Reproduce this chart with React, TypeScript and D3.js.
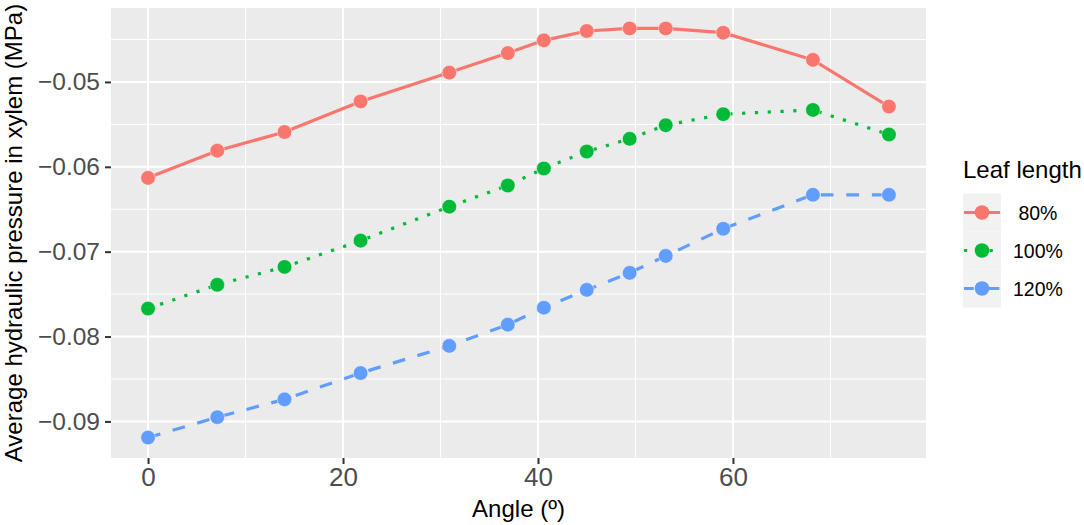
import { useEffect, useRef } from 'react'
import * as d3 from 'd3'

// angle (degrees)
const angles = [0, 7.1, 14, 21.8, 30.9, 36.9, 40.6, 45, 49.4, 53.1, 59, 68.2, 76]

const leaf80 = [-0.0613, -0.0581, -0.0559, -0.0523, -0.0489, -0.0466, -0.0451, -0.044, -0.0437, -0.0437, -0.0442, -0.0474, -0.0529]
const leaf100 = [-0.0767, -0.0739, -0.0718, -0.0687, -0.0647, -0.0622, -0.0602, -0.0582, -0.0567, -0.0551, -0.0538, -0.0533, -0.0562]
const leaf120 = [-0.0919, -0.0895, -0.0874, -0.0843, -0.0811, -0.0786, -0.0766, -0.0745, -0.0725, -0.0705, -0.0673, -0.0633, -0.0633]

const seriesNames = [' 80%', '100%', '120%']
const seriesColors = ['#F8766D', '#00BA38', '#619CFF']
const seriesDash = ['none', '3.2 9.6', '12.8 12.8']

const xTicks = [0, 20, 40, 60]
const xMinor = [10, 30, 50, 70]
const yTicks = [-0.09, -0.08, -0.07, -0.06, -0.05]
const yMinor = [-0.085, -0.075, -0.065, -0.055, -0.045]

const FONT = "'Liberation Sans', Arial, Helvetica, sans-serif"

export default function App() {
  const svgRef = useRef<SVGSVGElement>(null)

  useEffect(() => {
    if (!svgRef.current) return
    const svg = d3.select(svgRef.current)
    svg.selectAll('*').remove()

    const W = 1084
    const H = 525
    const panel = { left: 111, right: 926, top: 8, bottom: 458 }

    const series = [leaf80, leaf100, leaf120]

    // ggplot style 5% expansion
    const xExt = d3.extent(angles) as [number, number]
    const xPad = (xExt[1] - xExt[0]) * 0.05
    const allY = series.flat()
    const yExt = d3.extent(allY) as [number, number]
    const yPad = (yExt[1] - yExt[0]) * 0.05

    const x = d3.scaleLinear()
      .domain([xExt[0] - xPad, xExt[1] + xPad])
      .range([panel.left, panel.right])
    const y = d3.scaleLinear()
      .domain([yExt[0] - yPad, yExt[1] + yPad])
      .range([panel.bottom, panel.top])

    svg.attr('width', W).attr('height', H)

    svg.append('rect')
      .attr('width', W)
      .attr('height', H)
      .attr('fill', '#fff')

    // panel background
    svg.append('rect')
      .attr('x', panel.left)
      .attr('y', panel.top)
      .attr('width', panel.right - panel.left)
      .attr('height', panel.bottom - panel.top)
      .attr('fill', '#EBEBEB')

    const grid = svg.append('g')
    yMinor.forEach(t => {
      grid.append('line')
        .attr('x1', panel.left).attr('x2', panel.right)
        .attr('y1', y(t)).attr('y2', y(t))
        .attr('stroke', '#fff').attr('stroke-width', 1)
    })
    xMinor.forEach(t => {
      grid.append('line')
        .attr('x1', x(t)).attr('x2', x(t))
        .attr('y1', panel.top).attr('y2', panel.bottom)
        .attr('stroke', '#fff').attr('stroke-width', 1)
    })
    yTicks.forEach(t => {
      grid.append('line')
        .attr('x1', panel.left).attr('x2', panel.right)
        .attr('y1', y(t)).attr('y2', y(t))
        .attr('stroke', '#fff').attr('stroke-width', 2)
    })
    xTicks.forEach(t => {
      grid.append('line')
        .attr('x1', x(t)).attr('x2', x(t))
        .attr('y1', panel.top).attr('y2', panel.bottom)
        .attr('stroke', '#fff').attr('stroke-width', 2)
    })

    // lines and points
    const line = d3.line<number>()
      .x((_d, i) => x(angles[i]))
      .y(d => y(d))

    series.forEach((vals, s) => {
      svg.append('path')
        .datum(vals)
        .attr('fill', 'none')
        .attr('stroke', seriesColors[s])
        .attr('stroke-width', 3.2)
        .attr('stroke-dasharray', seriesDash[s])
        .attr('d', line)
    })
    series.forEach((vals, s) => {
      svg.append('g')
        .selectAll('circle')
        .data(vals)
        .join('circle')
        .attr('cx', (_d, i) => x(angles[i]))
        .attr('cy', d => y(d))
        .attr('r', 7.3)
        .attr('fill', seriesColors[s])
        .attr('stroke', '#fff')
        .attr('stroke-opacity', 0.6)
        .attr('stroke-width', 0.8)
    })

    // axes
    const yAxis = d3.axisLeft(y)
      .tickValues(yTicks)
      .tickSize(6)
      .tickPadding(5)
      .tickFormat(d3.format('.2f'))
    const yG = svg.append('g')
      .attr('transform', `translate(${panel.left},0)`)
      .call(yAxis)
    yG.select('.domain').remove()
    yG.selectAll('.tick line').attr('stroke', '#333').attr('stroke-width', 2)
    yG.selectAll('text')
      .attr('fill', '#4D4D4D')
      .style('font-family', FONT)
      .style('font-size', '24.5px')

    const xAxis = d3.axisBottom(x)
      .tickValues(xTicks)
      .tickSize(6)
      .tickPadding(4)
      .tickFormat(d3.format('d'))
    const xG = svg.append('g')
      .attr('transform', `translate(0,${panel.bottom})`)
      .call(xAxis)
    xG.select('.domain').remove()
    xG.selectAll('.tick line').attr('stroke', '#333').attr('stroke-width', 2)
    xG.selectAll('text')
      .attr('fill', '#4D4D4D')
      .style('font-family', FONT)
      .style('font-size', '26px')

    // axis titles
    svg.append('text')
      .attr('x', (panel.left + panel.right) / 2)
      .attr('y', 517)
      .attr('text-anchor', 'middle')
      .style('font-family', FONT)
      .style('font-size', '24px')
      .attr('fill', '#000')
      .text('Angle (º)')

    svg.append('text')
      .attr('transform', `translate(22,${(panel.top + panel.bottom) / 2}) rotate(-90)`)
      .attr('text-anchor', 'middle')
      .style('font-family', FONT)
      .style('font-size', '24px')
      .attr('fill', '#000')
      .text('Average hydraulic pressure in xylem (MPa)')

    // legend
    const lg = svg.append('g').attr('transform', 'translate(963,0)')
    lg.append('text')
      .attr('x', 0)
      .attr('y', 178)
      .style('font-family', FONT)
      .style('font-size', '24px')
      .attr('fill', '#000')
      .text('Leaf length')

    const keySize = 38
    const keyTop = 193.5
    seriesNames.forEach((name, s) => {
      const cy = keyTop + keySize * s + keySize / 2
      lg.append('rect')
        .attr('x', 0)
        .attr('y', keyTop + keySize * s)
        .attr('width', keySize)
        .attr('height', keySize)
        .attr('fill', '#F2F2F2')
      lg.append('line')
        .attr('x1', 1).attr('x2', keySize - 1)
        .attr('y1', cy).attr('y2', cy)
        .attr('stroke', seriesColors[s])
        .attr('stroke-width', 3.2)
        .attr('stroke-dasharray', seriesDash[s])
        .attr('stroke-dashoffset', s === 2 ? 3 : s === 1 ? 0 : 0)
      lg.append('circle')
        .attr('cx', keySize / 2)
        .attr('cy', cy)
        .attr('r', 7.3)
        .attr('fill', seriesColors[s])
      lg.append('text')
        .attr('x', 50)
        .attr('y', cy)
        .attr('dy', '0.36em')
        .style('font-family', FONT)
        .style('font-size', '19.5px')
        .style('white-space', 'pre')
        .attr('fill', '#000')
        .text(name)
    })
  }, [])

  return (
    <div style={{ position: 'absolute', left: 0, top: 0 }}>
      <svg ref={svgRef} style={{ display: 'block' }} />
    </div>
  )
}
